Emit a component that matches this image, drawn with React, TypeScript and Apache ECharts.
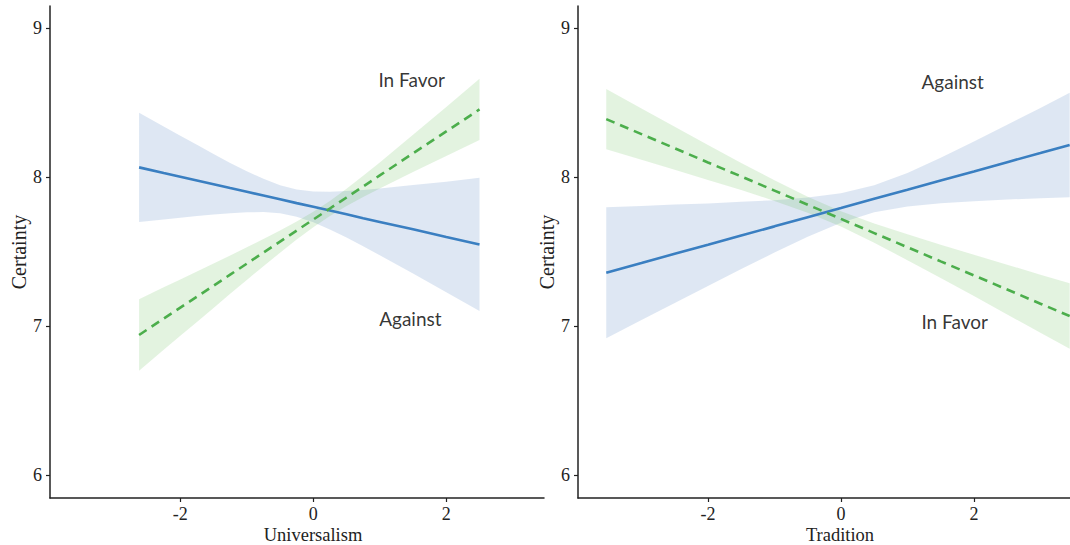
import React, { useEffect, useRef } from "react";
import * as echarts from "echarts";

// ---- Left panel: Universalism ----
const X_LEFT = [-2.62, -2.25, -2, -1.75, -1.5, -1.25, -1, -0.75, -0.5, -0.25, 0, 0.25, 0.5, 0.75, 1, 1.5, 2, 2.5];
const LEFT_AGAINST_FIT = [8.067, 8.029, 8.004, 7.979, 7.954, 7.928, 7.903, 7.878, 7.853, 7.827, 7.802, 7.777, 7.752, 7.726, 7.701, 7.651, 7.6, 7.55];
const LEFT_AGAINST_LO = [7.7, 7.717, 7.729, 7.74, 7.751, 7.759, 7.765, 7.767, 7.759, 7.736, 7.699, 7.65, 7.596, 7.537, 7.477, 7.354, 7.229, 7.103];
const LEFT_AGAINST_HI = [8.434, 8.341, 8.279, 8.218, 8.157, 8.097, 8.041, 7.99, 7.947, 7.918, 7.905, 7.904, 7.908, 7.915, 7.925, 7.948, 7.971, 7.997];
const LEFT_FAVOR_FIT = [6.942, 7.052, 7.126, 7.199, 7.273, 7.347, 7.421, 7.495, 7.569, 7.643, 7.717, 7.791, 7.865, 7.939, 8.013, 8.161, 8.308, 8.456];
const LEFT_FAVOR_LO = [6.702, 6.843, 6.937, 7.03, 7.124, 7.218, 7.311, 7.404, 7.494, 7.583, 7.665, 7.74, 7.807, 7.868, 7.926, 8.036, 8.144, 8.251];
const LEFT_FAVOR_HI = [7.182, 7.262, 7.315, 7.368, 7.422, 7.476, 7.531, 7.586, 7.644, 7.704, 7.769, 7.842, 7.923, 8.01, 8.1, 8.286, 8.472, 8.661];

// ---- Right panel: Tradition ----
const X_RIGHT = [-3.53, -3, -2.5, -2, -1.5, -1, -0.5, 0, 0.5, 1, 1.5, 2, 2.5, 3, 3.44];
const RIGHT_AGAINST_FIT = [7.36, 7.425, 7.487, 7.548, 7.61, 7.671, 7.733, 7.794, 7.856, 7.917, 7.979, 8.04, 8.102, 8.163, 8.217];
const RIGHT_AGAINST_LO = [6.92, 7.042, 7.157, 7.271, 7.385, 7.495, 7.601, 7.695, 7.765, 7.804, 7.826, 7.839, 7.851, 7.86, 7.867];
const RIGHT_AGAINST_HI = [7.8, 7.808, 7.817, 7.825, 7.836, 7.847, 7.865, 7.893, 7.947, 8.03, 8.132, 8.241, 8.353, 8.466, 8.567];
const RIGHT_FAVOR_FIT = [8.391, 8.29, 8.195, 8.1, 8.006, 7.911, 7.816, 7.721, 7.626, 7.531, 7.436, 7.342, 7.247, 7.152, 7.069];
const RIGHT_FAVOR_LO = [8.189, 8.118, 8.051, 7.983, 7.915, 7.842, 7.763, 7.67, 7.561, 7.444, 7.324, 7.203, 7.08, 6.957, 6.849];
const RIGHT_FAVOR_HI = [8.593, 8.462, 8.339, 8.217, 8.097, 7.98, 7.869, 7.772, 7.691, 7.618, 7.548, 7.481, 7.414, 7.347, 7.289];

// ---- Axes: ranges, ticks & names ----
const X_RANGES: [number, number][] = [[-3.96, 3.47], [-3.955, 3.445]];
const Y_RANGE: [number, number] = [5.848, 9.15];
const X_TICKS = [-2, 0, 2];
const Y_TICKS = [6, 7, 8, 9];
const X_NAMES = ["Universalism", "Tradition"];
const Y_NAME = "Certainty";
// annotation labels: [panel, x, y, text]
const ANNOTATIONS: [number, number, number, string][] = [
  [0, 1.48, 8.66, "In Favor"],
  [0, 1.46, 7.05, "Against"],
  [1, 1.68, 8.644, "Against"],
  [1, 1.71, 7.03, "In Favor"],
];

const BLUE = "#3a7fc1";
const GREEN = "#4cae4c";
const BLUE_FILL = "rgba(70,120,190,0.18)";
const GREEN_FILL = "rgba(80,180,60,0.16)";
const AXIS_COLOR = "#222";
const SERIF = "Liberation Serif";

function band(idx: number, xs: number[], lo: number[], hi: number[], fill: string, z: number) {
  return {
    type: "custom",
    xAxisIndex: idx,
    yAxisIndex: idx,
    z,
    silent: true,
    data: [[xs[0], lo[0]]],
    renderItem: (_params: any, api: any) => {
      const pts: number[][] = [];
      for (let i = 0; i < xs.length; i++) pts.push(api.coord([xs[i], hi[i]]));
      for (let i = xs.length - 1; i >= 0; i--) pts.push(api.coord([xs[i], lo[i]]));
      return { type: "polygon", shape: { points: pts }, style: { fill, stroke: null } };
    },
  };
}

function line(idx: number, xs: number[], ys: number[], color: string, dashed: boolean) {
  return {
    type: "line",
    xAxisIndex: idx,
    yAxisIndex: idx,
    z: 5,
    silent: true,
    showSymbol: false,
    symbol: "none",
    data: xs.map((x, i) => [x, ys[i]]),
    lineStyle: { color, width: 2.6, type: dashed ? [9, 6] : "solid", cap: "butt" },
  };
}

// tick labels as custom-series texts placed through the axes' own scales
function tickLabels(idx: number) {
  const items: [number, number, string, string][] = [
    ...X_TICKS.map((v) => [v, Y_RANGE[0], String(v), "x"] as [number, number, string, string]),
    ...Y_TICKS.map((v) => [X_RANGES[idx][0], v, String(v), "y"] as [number, number, string, string]),
  ];
  return {
    type: "custom",
    xAxisIndex: idx,
    yAxisIndex: idx,
    z: 7,
    silent: true,
    clip: false,
    data: items.map((it) => [it[0], it[1]]),
    renderItem: (params: any, api: any) => {
      const it = items[params.dataIndex];
      const p = api.coord([it[0], it[1]]);
      const isX = it[3] === "x";
      return {
        type: "text",
        x: isX ? p[0] : p[0] - 8,
        y: isX ? p[1] + 7 : p[1],
        style: {
          text: it[2],
          font: '18px "Liberation Serif", "Times New Roman", serif',
          fill: "#222",
          align: isX ? "center" : "right",
          verticalAlign: isX ? "top" : "middle",
        },
      };
    },
  };
}

function xAxis(idx: number) {
  return {
    type: "value",
    gridIndex: idx,
    min: X_RANGES[idx][0],
    max: X_RANGES[idx][1],
    name: X_NAMES[idx],
    nameLocation: "middle",
    nameGap: 27,
    nameTextStyle: { fontFamily: SERIF, fontSize: 18.5, color: "#222", padding: [0, 0, 0, 32] },
    splitLine: { show: false },
    axisLine: { show: true, onZero: false, lineStyle: { color: AXIS_COLOR, width: 1.5 } },
    axisTick: { show: true, length: 4, customValues: X_TICKS, lineStyle: { color: AXIS_COLOR, width: 1.2 } },
    axisLabel: { show: false },
  };
}

function yAxis(idx: number) {
  return {
    type: "value",
    gridIndex: idx,
    min: Y_RANGE[0],
    max: Y_RANGE[1],
    name: Y_NAME,
    nameLocation: "middle",
    nameGap: 21,
    nameRotate: 90,
    nameTextStyle: { fontFamily: SERIF, fontSize: 20, color: "#222" },
    splitLine: { show: false },
    axisLine: { show: true, onZero: false, lineStyle: { color: AXIS_COLOR, width: 1.5 } },
    axisTick: { show: true, length: 4, customValues: Y_TICKS, lineStyle: { color: AXIS_COLOR, width: 1.2 } },
    axisLabel: { show: false },
  };
}

export default function App() {
  const ref = useRef<HTMLDivElement>(null);
  useEffect(() => {
    if (!ref.current) return;
    const chart = echarts.init(ref.current, undefined, { renderer: "svg" });
    const annotationSeries = [0, 1].map((p) => ({
      type: "scatter",
      xAxisIndex: p,
      yAxisIndex: p,
      z: 6,
      silent: true,
      symbolSize: 1,
      itemStyle: { color: "rgba(0,0,0,0)" },
      data: ANNOTATIONS.filter((a) => a[0] === p).map((a) => ({ value: [a[1], a[2]], name: a[3] })),
      label: {
        show: true,
        position: "inside",
        formatter: (d: any) => d.name,
        fontFamily: "Lato",
        fontSize: 19,
        color: "#000",
      },
    }));
    chart.setOption({
      animation: false,
      backgroundColor: "#fff",
      grid: [
        { left: 50, top: 6, width: 494, height: 492, outerBoundsMode: "none", containLabel: false },
        { left: 578, top: 6, width: 492, height: 492, outerBoundsMode: "none", containLabel: false },
      ],
      xAxis: [xAxis(0), xAxis(1)],
      yAxis: [yAxis(0), yAxis(1)],
      series: [
        band(0, X_LEFT, LEFT_AGAINST_LO, LEFT_AGAINST_HI, BLUE_FILL, 1),
        band(0, X_LEFT, LEFT_FAVOR_LO, LEFT_FAVOR_HI, GREEN_FILL, 2),
        line(0, X_LEFT, LEFT_AGAINST_FIT, BLUE, false),
        line(0, X_LEFT, LEFT_FAVOR_FIT, GREEN, true),
        band(1, X_RIGHT, RIGHT_AGAINST_LO, RIGHT_AGAINST_HI, BLUE_FILL, 1),
        band(1, X_RIGHT, RIGHT_FAVOR_LO, RIGHT_FAVOR_HI, GREEN_FILL, 2),
        line(1, X_RIGHT, RIGHT_AGAINST_FIT, BLUE, false),
        line(1, X_RIGHT, RIGHT_FAVOR_FIT, GREEN, true),
        ...annotationSeries,
        tickLabels(0),
        tickLabels(1),
      ],
    });
    return () => chart.dispose();
  }, []);
  return (
    <div
      ref={ref}
      style={{ position: "fixed", left: 0, top: 0, width: 1070, height: 545, background: "#fff" }}
    />
  );
}
